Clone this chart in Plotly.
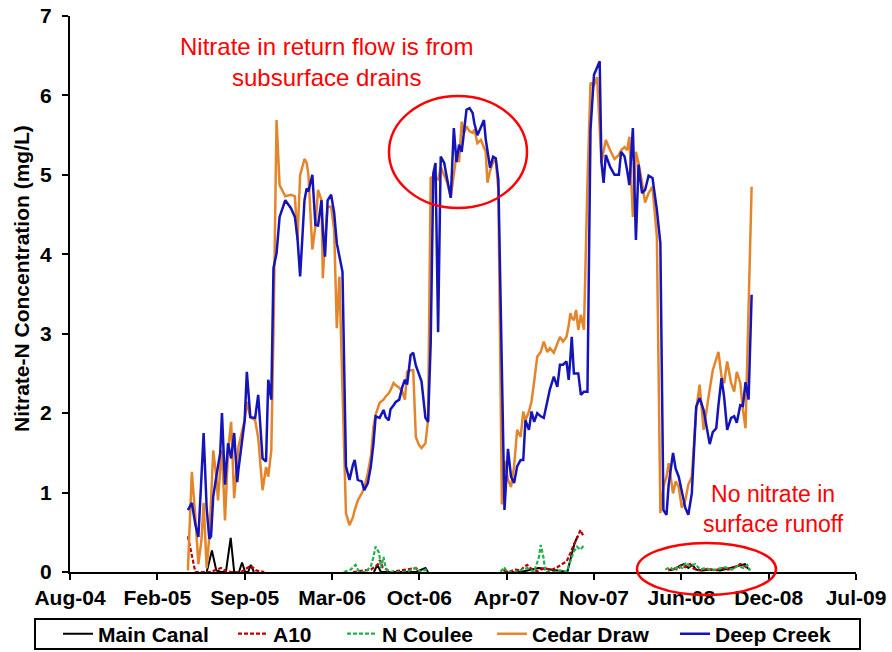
import plotly.graph_objects as go

# ---------------- data ----------------
sample_dates = [
"2005-04-28","2005-05-07","2005-05-15","2005-05-22","2005-05-29","2005-06-03","2005-06-10","2005-06-16","2005-06-20","2005-06-25",
"2005-07-02","2005-07-06","2005-07-11","2005-07-15","2005-07-22","2005-07-29","2005-08-05","2005-08-12","2005-08-19","2005-08-22",
"2005-08-29","2005-09-05","2005-09-10","2005-09-18","2005-09-29","2005-10-06","2005-10-16","2005-10-24","2005-10-29","2005-11-05",
"2005-11-10","2005-11-17","2005-11-24","2005-12-07","2005-12-20","2005-12-29","2006-01-04","2006-01-10","2006-01-20","2006-01-25",
"2006-01-29","2006-02-07","2006-02-14","2006-02-20","2006-02-28","2006-03-03","2006-03-08","2006-03-14","2006-03-22","2006-03-29",
"2006-04-04","2006-04-10","2006-04-17","2006-04-25","2006-05-03","2006-05-11","2006-05-15","2006-05-22","2006-05-31","2006-06-06",
"2006-06-14","2006-06-21","2006-06-27","2006-07-02","2006-07-11","2006-07-20","2006-07-25","2006-08-01","2006-08-05","2006-08-12",
"2006-08-17","2006-08-25","2006-09-01","2006-09-07","2006-09-12","2006-09-20","2006-09-26","2006-10-02","2006-10-09","2006-10-15",
"2006-10-24","2006-10-30","2006-11-05","2006-11-11","2006-11-16","2006-11-22","2006-11-28","2006-12-06","2006-12-13","2006-12-21",
"2006-12-28","2007-01-03","2007-01-09","2007-01-15","2007-01-20","2007-01-26","2007-02-02","2007-02-09","2007-02-13","2007-02-20",
"2007-02-28","2007-03-07","2007-03-11","2007-03-15","2007-03-21","2007-03-28","2007-04-03","2007-04-09","2007-04-17","2007-04-23",
"2007-05-01","2007-05-08","2007-05-15","2007-05-22","2007-05-30","2007-06-05","2007-06-10","2007-06-18","2007-06-24","2007-06-30",
"2007-07-07","2007-07-15","2007-07-22","2007-07-30","2007-08-05","2007-08-14","2007-08-22","2007-08-28","2007-09-04","2007-09-12",
"2007-09-17","2007-09-21","2007-09-24","2007-09-29","2007-10-04","2007-10-09","2007-10-15","2007-10-22","2007-10-30","2007-11-06",
"2007-11-14","2007-11-21","2007-11-27","2007-12-01","2007-12-06","2007-12-11","2007-12-21","2007-12-31","2008-01-10","2008-01-15",
"2008-01-23","2008-01-29","2008-02-03","2008-02-11","2008-02-18","2008-02-24","2008-03-03","2008-03-10","2008-03-18","2008-03-27",
"2008-04-06","2008-04-14","2008-04-21","2008-04-28","2008-05-03","2008-05-13","2008-05-19","2008-05-26","2008-06-02","2008-06-10",
"2008-06-17","2008-06-25","2008-07-05","2008-07-13","2008-07-22","2008-07-29","2008-08-05","2008-08-12","2008-08-20","2008-08-25",
"2008-09-01","2008-09-07","2008-09-14","2008-09-23","2008-09-30","2008-10-06","2008-10-14","2008-10-20","2008-10-26","2008-11-02",
"2008-11-09"]

deep_creek = [
0.78,0.87,0.60,0.44,1.20,1.75,0.80,0.42,0.45,0.95,
1.20,1.35,1.50,2.00,1.10,1.62,1.43,1.75,1.13,1.30,
1.60,1.91,2.52,1.95,1.94,2.23,1.43,1.39,2.42,2.17,
3.83,4.01,4.47,4.68,4.58,4.47,4.20,3.72,4.68,4.83,
4.79,5.00,4.37,4.36,4.68,4.30,3.97,4.68,4.75,4.52,
4.14,3.95,3.78,1.33,1.16,1.35,1.41,1.16,1.14,1.03,
1.12,1.33,1.62,1.96,1.94,2.04,1.95,1.91,2.05,2.10,
2.14,2.17,2.33,2.42,2.36,2.73,2.76,2.60,2.50,2.40,
1.94,1.89,2.88,5.02,5.15,3.02,5.23,5.15,4.94,4.71,
5.59,5.16,5.38,5.29,5.53,5.82,5.84,5.78,5.65,5.50,
5.60,5.69,5.45,5.28,5.09,5.23,5.21,4.94,2.80,0.78,
1.55,1.20,1.12,1.33,1.41,1.41,1.91,1.79,2.02,1.89,
2.00,1.96,1.94,2.17,2.30,2.46,2.33,2.61,2.61,2.65,
2.42,2.70,2.96,2.50,2.50,2.50,2.23,2.27,2.27,5.57,
6.26,6.35,6.43,5.16,4.90,5.25,5.10,5.00,5.00,5.29,
5.23,5.05,4.87,5.59,4.18,5.13,4.77,4.81,4.99,4.96,
4.56,4.14,0.78,0.72,1.10,1.50,1.30,1.20,1.01,0.81,
0.72,0.99,2.08,2.19,2.04,1.83,1.61,1.76,1.81,2.10,
2.44,2.20,1.79,1.94,1.96,1.88,2.10,2.09,2.39,2.17,
3.49]

cedar_draw = [
0.02,1.26,0.70,0.10,0.40,0.87,0.05,0.45,0.90,1.53,
1.20,0.90,1.30,1.53,0.65,1.53,1.89,0.93,1.40,1.58,
1.75,1.91,2.14,1.95,1.91,1.69,1.03,1.32,1.20,1.53,
3.01,5.69,4.87,4.73,4.75,4.73,4.18,5.00,5.20,5.15,
5.00,4.06,4.35,4.81,4.68,3.70,4.20,4.60,4.60,4.30,
3.07,3.72,2.29,0.74,0.59,0.69,0.78,0.90,0.99,1.06,
1.25,1.45,1.83,1.98,2.13,2.17,2.21,2.25,2.29,2.38,
2.35,2.32,2.27,2.17,2.52,2.54,2.54,1.70,1.60,1.56,
1.62,1.91,4.96,4.98,4.96,4.94,5.10,5.00,4.90,4.72,
5.02,5.25,5.16,5.67,5.53,5.61,5.55,5.53,5.57,5.40,
5.44,5.35,5.29,4.90,5.05,5.16,5.19,4.81,0.85,1.40,
1.16,1.07,1.33,1.79,1.70,2.02,1.91,2.02,2.15,2.40,
2.71,2.77,2.90,2.77,2.82,2.76,2.88,2.96,2.90,2.96,
3.10,3.26,3.20,3.17,3.30,3.05,3.24,3.05,4.90,6.16,
6.13,6.23,5.60,5.15,5.30,5.44,5.31,5.20,5.25,5.31,
5.35,5.31,5.48,4.47,5.29,5.15,4.90,4.65,4.77,4.85,
4.22,0.74,1.07,1.20,1.37,0.99,1.14,1.07,0.81,0.90,
1.10,1.20,2.04,2.36,1.79,2.08,2.30,2.54,2.70,2.77,
2.46,2.38,2.65,2.38,2.27,2.52,2.38,2.04,1.81,3.30,
4.85]

main_canal_dates = [
"2005-06-10","2005-06-22","2005-07-02","2005-07-13","2005-07-24","2005-08-04","2005-08-12","2005-08-23","2005-08-30","2005-09-06",
"2005-09-13","2005-09-19","2005-09-26", None,
"2006-06-28","2006-07-06","2006-07-14","2006-10-02","2006-10-24","2006-10-30", None,
"2007-04-21","2007-04-29","2007-05-30","2007-07-10","2007-07-26","2007-08-18","2007-09-14","2007-09-23","2007-09-30","2007-10-07", None,
"2008-05-06","2008-05-18","2008-05-29","2008-06-07","2008-06-17","2008-06-26","2008-07-05","2008-07-19","2008-08-06","2008-08-29",
"2008-09-21","2008-10-14","2008-10-25","2008-11-01"]
main_canal = [
0.00,0.27,0.02,0.00,0.00,0.43,0.00,0.00,0.12,0.00,
0.00,0.09,0.00, None,
0.00,0.09,0.00,0.00,0.05,0.00, None,
0.03,0.00,0.00,0.05,0.04,0.02,0.00,0.20,0.35,0.45, None,
0.02,0.04,0.08,0.10,0.05,0.09,0.03,0.02,0.03,0.02,
0.05,0.08,0.10,0.04]

a10_dates = [
"2005-04-28","2005-05-07","2005-05-15","2005-05-29","2005-06-20","2005-07-02","2005-07-13","2005-07-24","2005-08-05","2005-08-28",
"2005-09-10","2005-09-19","2005-10-01","2005-10-20", None,
"2006-05-11","2006-06-02","2006-06-21","2006-07-06","2006-07-12","2006-07-18","2006-07-29","2006-08-05","2006-10-02","2006-10-13", None,
"2007-04-21","2007-05-02","2007-05-18","2007-05-30","2007-06-06","2007-06-14","2007-06-25","2007-07-08","2007-07-15","2007-07-26",
"2007-08-06","2007-08-22","2007-09-02","2007-09-12","2007-09-21","2007-09-29","2007-10-06","2007-10-14","2007-10-21", None,
"2008-05-02","2008-05-13","2008-05-23","2008-06-01","2008-06-10","2008-06-21","2008-06-30","2008-07-14","2008-08-01","2008-08-17",
"2008-09-02","2008-09-16","2008-10-02","2008-10-14","2008-10-25","2008-11-04"]
a10 = [
0.45,0.20,0.00,0.00,0.00,0.03,0.05,0.01,0.00,0.00,
0.05,0.08,0.02,0.00, None,
0.00,0.02,0.03,0.09,0.15,0.06,0.02,0.00,0.05,0.00, None,
0.02,0.00,0.03,0.02,0.06,0.09,0.03,0.01,0.03,0.05,
0.02,0.06,0.10,0.13,0.24,0.35,0.42,0.53,0.45, None,
0.02,0.05,0.03,0.08,0.06,0.10,0.04,0.02,0.04,0.02,
0.05,0.03,0.06,0.10,0.07,0.03]

n_coulee_dates = [
"2006-04-20","2006-05-06","2006-05-17","2006-05-25","2006-06-09","2006-06-21","2006-06-26","2006-07-02","2006-07-10","2006-07-14",
"2006-07-20","2006-07-25","2006-08-01","2006-08-12","2006-09-09","2006-10-02","2006-10-13","2006-10-24","2006-10-30", None,
"2007-04-14","2007-04-22","2007-04-30","2007-05-18","2007-06-14","2007-06-30","2007-07-11","2007-07-15","2007-07-21","2007-07-26",
"2007-08-13","2007-08-29","2007-09-12","2007-09-29","2007-10-06","2007-10-14","2007-10-21", None,
"2008-04-25","2008-05-06","2008-05-16","2008-05-25","2008-06-03","2008-06-12","2008-06-21","2008-07-03","2008-07-14","2008-07-26",
"2008-08-10","2008-08-24","2008-09-09","2008-09-25","2008-10-09","2008-10-21","2008-10-30","2008-11-06"]
n_coulee = [
0.00,0.03,0.09,0.00,0.00,0.07,0.17,0.32,0.24,0.05,
0.19,0.05,0.00,0.00,0.00,0.05,0.00,0.03,0.00, None,
0.00,0.06,0.00,0.00,0.05,0.00,0.19,0.34,0.19,0.00,
0.00,0.02,0.00,0.26,0.32,0.28,0.33, None,
0.03,0.06,0.02,0.08,0.05,0.12,0.07,0.10,0.03,0.05,
0.02,0.04,0.06,0.03,0.08,0.05,0.09,0.02]

tick_dates = ["2004-08-01","2005-02-17","2005-09-05","2006-03-24","2006-10-10",
              "2007-04-28","2007-11-14","2008-06-01","2008-12-18","2009-07-06"]
tick_labels = ["Aug-04","Feb-05","Sep-05","Mar-06","Oct-06",
               "Apr-07","Nov-07","Jun-08","Dec-08","Jul-09"]

series_names = ["Main Canal", "A10", "N Coulee", "Cedar Draw", "Deep Creek"]

# ---------------- figure ----------------
FONT = "Liberation Sans, Arial, sans-serif"
W, H = 892, 652
ML, MT = 70, 16              # plot area in page px: x 70..856, y 16..572
MR, MB = W - 856, H - 572
PW, PH = W - ML - MR, H - MT - MB

def px_x(p):  # page pixel -> paper x
    return (p - ML) / PW

def px_y(p):  # page pixel -> paper y
    return (H - MB - p) / PH

fig = go.Figure()
styles = [
    dict(color="#000000", width=2),
    dict(color="#C00000", width=2.2, dash="4px,2px"),
    dict(color="#22B04C", width=2.2, dash="4px,2px"),
    dict(color="#E3852B", width=2.5),
    dict(color="#1414B8", width=2.5),
]
xs = [main_canal_dates, a10_dates, n_coulee_dates, sample_dates, sample_dates]
ys = [main_canal, a10, n_coulee, cedar_draw, deep_creek]
legend_ids = ["legend", "legend2", "legend3", "legend4", "legend5"]
legend_left_px = [58, 233, 342, 492, 675]

for name, x, y, st, lid in zip(series_names, xs, ys, styles, legend_ids):
    fig.add_trace(go.Scatter(x=x, y=y, name=name, mode="lines", line=st,
                             connectgaps=False, legend=lid))

legend_common = dict(orientation="h", xanchor="left", yanchor="middle", y=px_y(634),
                     borderwidth=0, bgcolor="rgba(0,0,0,0)",
                     font=dict(family=FONT, size=21, color="black", weight="bold"))
layout_legends = {}
for lid, lx in zip(legend_ids, legend_left_px):
    layout_legends[lid] = dict(legend_common, x=px_x(lx))

fig.update_layout(
    width=W, height=H,
    margin=dict(l=ML, r=MR, t=MT, b=MB, autoexpand=False),
    paper_bgcolor="white", plot_bgcolor="white",
    font=dict(family=FONT, color="black"),
    showlegend=True,
    xaxis=dict(type="date", range=[tick_dates[0], tick_dates[-1]], automargin=False,
               tickmode="array", tickvals=tick_dates, ticktext=tick_labels,
               ticklabeloverflow="allow",
               showgrid=False, zeroline=False, showline=True, linecolor="black", linewidth=2,
               ticks="outside", ticklen=6, tickwidth=2, tickcolor="black",
               tickfont=dict(family=FONT, size=21, color="black", weight="bold")),
    yaxis=dict(range=[0, 7], dtick=1, tick0=0, automargin=False,
               ticklabeloverflow="allow",
               showgrid=False, zeroline=False, showline=True, linecolor="black", linewidth=2,
               ticks="outside", ticklen=6, tickwidth=2, tickcolor="black", ticklabelstandoff=6,
               tickfont=dict(family=FONT, size=21, color="black", weight="bold")),
    **layout_legends,
)

# legend frame
fig.add_shape(type="rect", xref="paper", yref="paper",
              x0=px_x(35), x1=px_x(860), y0=px_y(649), y1=px_y(619),
              line=dict(color="black", width=2), fillcolor="rgba(0,0,0,0)", layer="above")

# y axis title
fig.add_annotation(text="Nitrate-N Concentration (mg/L)", textangle=-90,
                   xref="paper", yref="paper", x=px_x(22), y=px_y(279),
                   xanchor="center", yanchor="middle", showarrow=False,
                   font=dict(family=FONT, size=21, color="black", weight="bold"))

# red call-outs
fig.add_annotation(text="Nitrate in return flow is from<br>subsurface drains",
                   xref="paper", yref="paper", x=px_x(326), y=px_y(62),
                   xanchor="center", yanchor="middle", showarrow=False,
                   font=dict(family=FONT, size=24, color="#FF0000"), align="center")
fig.add_annotation(text="No nitrate in<br>surface runoff",
                   xref="paper", yref="paper", x=px_x(773), y=px_y(509),
                   xanchor="center", yanchor="middle", showarrow=False,
                   font=dict(family=FONT, size=23, color="#FF0000"), align="center")

fig.add_shape(type="circle", xref="paper", yref="paper",
              x0=px_x(389), x1=px_x(527), y0=px_y(208), y1=px_y(96),
              line=dict(color="#FF0000", width=2.5))
fig.add_shape(type="circle", xref="paper", yref="paper",
              x0=px_x(637), x1=px_x(776), y0=px_y(595), y1=px_y(543),
              line=dict(color="#FF0000", width=2.5))

# remove the browser's default 8px page margin so the figure fills the window exactly
fig.write_html("out.html",
               config={"displayModeBar": False},
               post_script="document.body.style.margin='0';document.body.style.padding='0';")
